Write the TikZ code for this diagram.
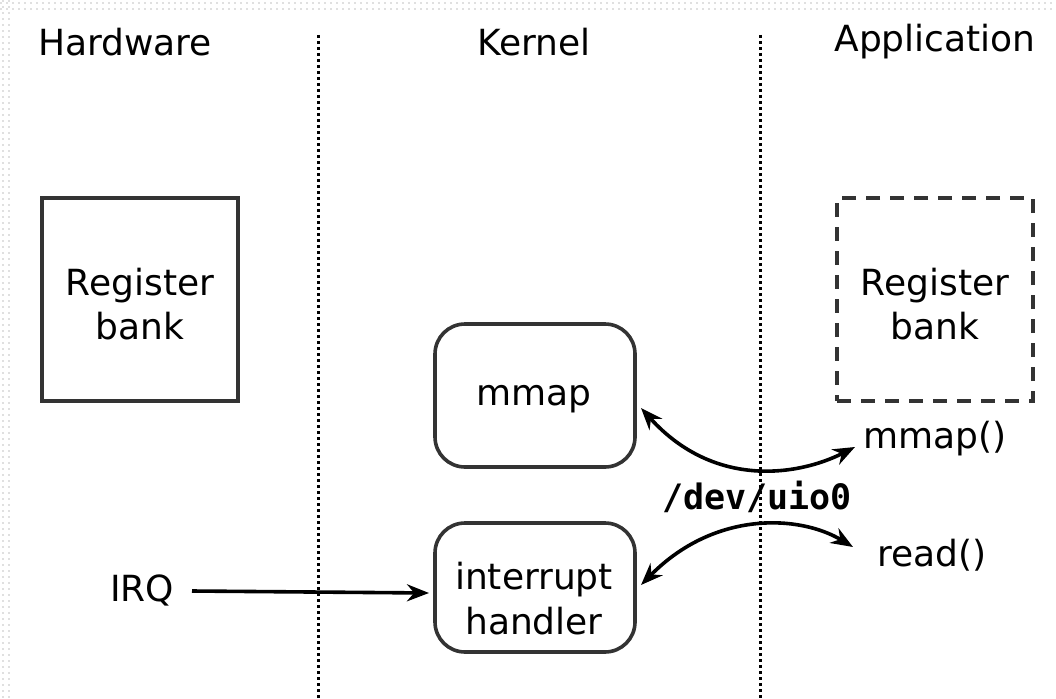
\documentclass[tikz,border=0pt]{standalone}
\usepackage{fontspec}
\setmainfont{DejaVu Sans}
\newfontfamily\uiomono{DejaVu Sans Mono}
\usetikzlibrary{arrows.meta}
\begin{document}
\begin{tikzpicture}[x=1pt,y=-1pt,
  lbl/.style={font=\fontsize{36}{44}\selectfont, inner sep=0pt, align=center},
  regbox/.style={draw=black!80, line width=3.6pt, minimum width=196pt, minimum height=203pt, inner sep=0pt},
  rbox/.style={draw=black!80, line width=3.6pt, rounded corners=30pt, minimum width=200pt, inner sep=0pt},
  sep/.style={line width=3pt, dash pattern=on 3pt off 3pt},
  arr/.style={line width=3.6pt, -{Stealth[length=22pt,width=17pt]}},
  darr/.style={line width=3.6pt, {Stealth[length=22pt,width=17pt]}-{Stealth[length=22pt,width=17pt]}},
  faint/.style={draw=black!12, line width=2pt, dash pattern=on 2pt off 4pt}
]
\useasboundingbox (0,0) rectangle (1056,698);
% faint dotted frame
\draw[faint] (0,3) -- (1056,3);
\draw[faint] (0,9) -- (1056,9);
\draw[faint] (3,0) -- (3,698);
\draw[faint] (9,0) -- (9,698);
% column separators
\coordinate (s1t) at (318,35); \coordinate (s1b) at (318,698);
\coordinate (s2t) at (760,35); \coordinate (s2b) at (760,698);
\draw[sep] (s1t) -- (s1b);
\draw[sep] (s2t) -- (s2b);
% headers
\node[lbl] (hw) at (125,42) {Hardware};
\node[lbl] (kn) at (534,42) {Kernel};
\node[lbl] (ap) at (935,42) {Application};
% register banks
\node[regbox] (rb1) at (140,299.5) {};
\node[lbl] (rb1t) at (140,304.5) {Register\\bank};
\node[regbox, dash pattern=on 14pt off 10pt] (rb2) at (935,299.5) {};
\node[lbl] (rb2t) at (935,304.5) {Register\\bank};
% kernel boxes
\node[rbox, minimum height=143pt] (mm) at (535,395.5) {};
\node[lbl] (mmt) at (534,399) {mmap};
\node[rbox, minimum height=129pt] (ih) at (535,587.5) {};
\node[lbl, font=\fontsize{36}{45}\selectfont] (iht) at (534,599) {interrupt\\handler};
% labels
\node[lbl] (mmc) at (935,439) {mmap()};
\node[lbl] (rdc) at (932,555) {read()};
\node[lbl] (irq) at (142,590) {IRQ};
\node[font=\fontsize{35}{40}\uiomono\bfseries, inner sep=0pt] (dev) at (757,497) {/dev/uio0};
% arrows
\coordinate (irqs) at (192,591);
\coordinate (irqe) at (429,593);
\draw[arr] (irqs) -- (irqe);
\coordinate (a1) at (641,408);
\coordinate (b1) at (855,447);
\draw[darr] (a1) .. controls (715,490) and (800,475) .. (b1);
\coordinate (a2) at (641,585);
\coordinate (b2) at (853,547);
\draw[darr] (a2) .. controls (715,510) and (800,515) .. (b2);
\end{tikzpicture}
\end{document}
